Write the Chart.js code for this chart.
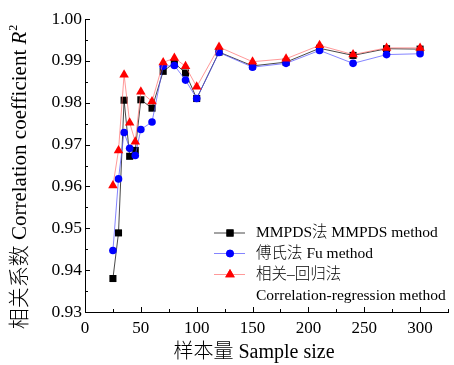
<!DOCTYPE html>
<html><head><meta charset="utf-8">
<script src="https://cdn.jsdelivr.net/npm/chart.js@4/dist/chart.umd.min.js"></script>
<style>html,body{margin:0;padding:0;background:#fff;}#wrap{width:454px;height:365px;}</style>
</head><body><div id="wrap"><canvas id="c" width="454" height="365"></canvas></div>
<script>
const sampleSizes = [25,30,35,40,45,50,60,70,80,90,100,120,150,180,210,240,270,300];
const mmpds   = [0.9380,0.9489,0.9806,0.9672,0.9686,0.9807,0.9787,0.9875,0.9895,0.9871,0.9810,0.9921,0.9888,0.9897,0.9930,0.9913,0.9929,0.9928];
const fu      = [0.9447,0.9618,0.9729,0.9691,0.9674,0.9736,0.9754,0.9887,0.9889,0.9854,0.9810,0.9920,0.9885,0.9894,0.9925,0.9894,0.9915,0.9917];
const corrReg = [0.9602,0.9686,0.9867,0.9752,0.9707,0.9826,0.9803,0.9896,0.9907,0.9887,0.9838,0.9933,0.9898,0.9905,0.9937,0.9915,0.9931,0.9931];
const xTicks = [0,50,100,150,200,250,300];
const xMinorTicks = [25,75,125,175,225,275,325];
const yTicks = [0.93,0.94,0.95,0.96,0.97,0.98,0.99,1.00];
const yMinorTicks = [0.935,0.945,0.955,0.965,0.975,0.985,0.995];
const seriesNames = ['MMPDS法 MMPDS method','傅氏法 Fu method','相关–回归法','Correlation-regression method'];
const xTitle = '样本量 Sample size';
const yTitleMain = '相关系数 Correlation coefficient ';
const yTitleVar = 'R';
const yTitleSup = '2';

const FONT = '"Liberation Serif","Noto Sans CJK SC",serif';
const toPts = arr => sampleSizes.map((x,i)=>({x:x,y:arr[i]}));

const series = [
  {name:0, data:corrReg, line:'rgba(255,110,110,0.7)', fill:'#ff0000', style:'triangle', r:5.5},
  {name:1, data:fu, line:'rgba(80,80,255,0.7)', fill:'#0000ff', style:'circle', r:3.8},
  {name:2, data:mmpds, line:'rgba(40,40,40,0.85)', fill:'#000000', style:'rect', r:5}
];

const axesPlugin = {
  id:'axesDeco',
  afterDraw(chart){
    const ctx = chart.ctx, xs = chart.scales.x, ys = chart.scales.y;
    const a = chart.chartArea;
    ctx.save();
    ctx.strokeStyle = '#000'; ctx.lineWidth = 1;
    ctx.beginPath();
    yTicks.forEach(v=>{const y=Math.round(ys.getPixelForValue(v))+0.5; ctx.moveTo(a.left,y); ctx.lineTo(a.left+5,y);});
    yMinorTicks.forEach(v=>{const y=Math.round(ys.getPixelForValue(v))+0.5; ctx.moveTo(a.left,y); ctx.lineTo(a.left+3,y);});
    xTicks.forEach(v=>{const x=Math.round(xs.getPixelForValue(v))+0.5; ctx.moveTo(x,a.bottom); ctx.lineTo(x,a.bottom-5);});
    xMinorTicks.forEach(v=>{const x=Math.round(xs.getPixelForValue(v))+0.5; ctx.moveTo(x,a.bottom); ctx.lineTo(x,a.bottom-3);});
    ctx.stroke();

    // legend
    const rows = [
      {y:233, s:series[2], label:seriesNames[0]},
      {y:253.5, s:series[1], label:seriesNames[1]},
      {y:274.5, s:series[0], label:seriesNames[2]}
    ];
    ctx.font = '300 15.5px ' + FONT;
    ctx.textBaseline = 'middle';
    ctx.textAlign = 'left';
    rows.forEach(r=>{
      ctx.strokeStyle = r.s.line; ctx.lineWidth = 1;
      ctx.beginPath(); ctx.moveTo(214, r.y); ctx.lineTo(245, r.y); ctx.stroke();
      ctx.fillStyle = r.s.fill;
      Chart.helpers.drawPoint(ctx, {pointStyle:r.s.style, radius:r.s.r, rotation:0, borderWidth:0}, 230, r.y);
      ctx.fill();
      ctx.fillStyle = '#000';
      ctx.fillText(r.label, 256, r.y);
    });
    ctx.fillText(seriesNames[3], 256, 295.5);

    // axis titles
    ctx.font = '300 20px ' + FONT;
    ctx.textAlign = 'center';
    ctx.textBaseline = 'middle';
    ctx.fillText(xTitle, 254, 353);

    ctx.translate(20, 177);
    ctx.rotate(-Math.PI/2);
    ctx.textAlign = 'left';
    ctx.font = '300 21px ' + FONT;
    const w1 = ctx.measureText(yTitleMain).width;
    ctx.font = 'italic 21px ' + FONT;
    const w2 = ctx.measureText(yTitleVar).width;
    ctx.font = '12px ' + FONT;
    const w3 = ctx.measureText(yTitleSup).width;
    let x0 = -(w1+w2+w3+1)/2;
    ctx.font = '300 21px ' + FONT; ctx.fillText(yTitleMain, x0, 0);
    ctx.font = 'italic 21px ' + FONT; ctx.fillText(yTitleVar, x0+w1, 0);
    ctx.font = '12px ' + FONT; ctx.fillText(yTitleSup, x0+w1+w2+1, -6);
    ctx.restore();
  }
};

new Chart(document.getElementById('c'), {
  type:'scatter',
  data:{
    datasets: series.map(s=>({
      label: seriesNames[s.name],
      data: toPts(s.data),
      showLine:true,
      borderColor:s.line,
      borderWidth:1,
      backgroundColor:s.fill,
      pointBackgroundColor:s.fill,
      pointBorderColor:s.fill,
      pointBorderWidth:0,
      pointStyle:s.style,
      pointRadius:s.r,
      pointHoverRadius:s.r,
      tension:0,
      clip:false
    }))
  },
  options:{
    responsive:false,
    animation:false,
    events:[],
    layout:{padding:{top:19,right:6,left:0,bottom:0}},
    plugins:{legend:{display:false}, tooltip:{enabled:false}, title:{display:false}},
    scales:{
      x:{
        type:'linear', min:0, max:325,
        afterBuildTicks: sc => { sc.ticks = xTicks.map(v=>({value:v})); },
        afterFit: sc => { sc.height = 53; },
        grid:{display:false, drawTicks:false},
        border:{display:true, color:'#000', width:1},
        ticks:{color:'#000', font:{family:FONT, size:17}, padding:6, maxRotation:0, callback:v=>String(v)}
      },
      y:{
        type:'linear', min:0.93, max:1.0,
        afterBuildTicks: sc => { sc.ticks = yTicks.map(v=>({value:v})); },
        afterFit: sc => { sc.width = 85; },
        grid:{display:false, drawTicks:false},
        border:{display:true, color:'#000', width:1},
        ticks:{color:'#000', font:{family:FONT, size:17.5}, padding:3, callback:v=>Number(v).toFixed(2)}
      }
    }
  },
  plugins:[axesPlugin]
});
</script></body></html>
